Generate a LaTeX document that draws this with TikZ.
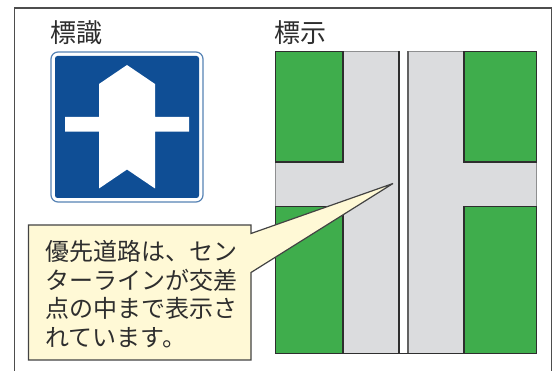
\documentclass[tikz,border=0pt]{standalone}
\usepackage{fontspec}
\newfontfamily\jpfont{Noto Sans CJK JP}
\definecolor{signblue}{HTML}{0F4E95}
\definecolor{grass}{HTML}{3FAD4C}
\definecolor{road}{HTML}{DBDCDE}
\definecolor{cream}{HTML}{FFF9D6}
\definecolor{ink}{HTML}{2E2E2E}
\tikzset{
  frameline/.style={draw=ink!85,line width=1.2pt},
  greenblock/.style={draw=ink,line width=1.3pt,fill=grass},
  titletext/.style={inner sep=0pt,anchor=west,text=ink,font=\jpfont\fontsize{26}{26}\selectfont},
  bubbletext/.style={inner sep=0pt,anchor=north west,align=left,text=ink,font=\jpfont\fontsize{24}{28.4}\selectfont}
}
\begin{document}
\begin{tikzpicture}[x=1pt,y=-1pt]
\useasboundingbox (0,0) rectangle (558,371);
\clip (0,0) rectangle (558,371);
\fill[white] (0,0) rectangle (558,371);
% outer frame
\coordinate (fa) at (14.5,380);
\coordinate (fb) at (14.5,8);
\coordinate (fc) at (551.5,8);
\coordinate (fd) at (551.5,380);
\draw[frameline] (fa) -- (fb) -- (fc) -- (fd);
% titles
\node[titletext] (t1) at (50,32.5) {標識};
\node[titletext] (t2) at (274.5,32.5) {標示};
% sign
\draw[draw=signblue!70,line width=1.2pt,rounded corners=7pt] (51,52) rectangle (203,202);
\fill[signblue,rounded corners=2.5pt] (55,56) rectangle (199,198);
\fill[white] (127,65) -- (155,84) -- (155,117) -- (189,117) -- (189,131.7) -- (155,131.7) -- (155,188.5) -- (127,169.5) -- (99,188.5) -- (99,131.7) -- (65,131.7) -- (65,117) -- (99,117) -- (99,84) -- cycle;
% road marking panel
\fill[road] (275,51.5) rectangle (536.5,353.5);
\draw[road!65!black,line width=1pt] (275,51.5) rectangle (536.5,353.5);
\draw[greenblock] (275.5,51.5) rectangle (343,162);
\draw[greenblock] (464,51.5) rectangle (536.5,162);
\draw[greenblock] (275.5,206.5) rectangle (343,353.5);
\draw[greenblock] (464,206.5) rectangle (536.5,353.5);
\fill[white] (399,51.5) rectangle (408,353.5);
\draw[ink,line width=1.3pt] (399,51.5) -- (399,353.5);
\draw[ink!75,line width=1.6pt] (408,51.5) -- (408,353.5);
\draw[ink,line width=1.3pt] (275,353.5) -- (536.5,353.5);
% callout
\draw[draw=ink!90,line width=1.2pt,fill=cream,line join=miter,miter limit=3] (28.5,225) -- (251,225) -- (251,233.5) -- (393,183.5) -- (251,272.5) -- (251,360) -- (28.5,360) -- cycle;
\node[bubbletext] (bubble) at (45.5,240.5) {優先道路は、セン\\ターラインが交差\\点の中まで表示さ\\れています。};
\end{tikzpicture}
\end{document}
